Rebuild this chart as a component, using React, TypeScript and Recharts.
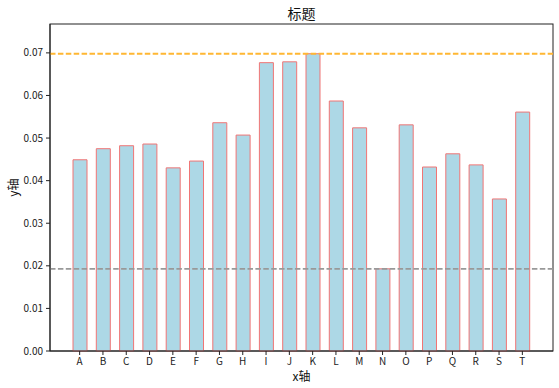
import { BarChart, Bar, XAxis, YAxis, ReferenceLine, Label, usePlotArea } from 'recharts';

const categories = ['A', 'B', 'C', 'D', 'E', 'F', 'G', 'H', 'I', 'J', 'K', 'L', 'M', 'N', 'O', 'P', 'Q', 'R', 'S', 'T'];
const values = [
  0.0449, 0.0475, 0.0482, 0.0486, 0.043, 0.0446, 0.0536, 0.0507, 0.0677, 0.0679,
  0.0698, 0.0587, 0.0524, 0.0193, 0.0531, 0.0432, 0.0463, 0.0437, 0.0357, 0.0561,
];
const yTicks = [0, 0.01, 0.02, 0.03, 0.04, 0.05, 0.06, 0.07];

const maxValue = Math.max(...values);
const minValue = Math.min(...values);
const data = categories.map((name, i) => ({ name, value: values[i] }));

const font = '"Noto Sans CJK SC", sans-serif';
const tickStyle = { fontSize: 10, fill: '#222', fontFamily: font };

// top/right spines
function Frame() {
  const area = usePlotArea();
  if (!area) return null;
  return <rect x={area.x} y={area.y} width={area.width} height={area.height} fill="none" stroke="#222" strokeWidth={1} />;
}

export default function App() {
  return (
    <div style={{ position: 'absolute', left: 0, top: 0, width: 559, height: 388, background: '#fff', fontFamily: font }}>
      <div style={{ position: 'absolute', left: 50, width: 503, top: 3, textAlign: 'center', fontSize: 14, lineHeight: '20px', color: '#111' }}>
        标题
      </div>
      <BarChart width={559} height={388} data={data} margin={{ top: 24, right: 6, left: 0, bottom: 0 }}>
        <XAxis
          dataKey="name"
          interval={0}
          height={37}
          padding={{ left: 18, right: 19 }}
          tick={tickStyle}
          tickSize={4}
          tickMargin={3}
          stroke="#222"
        >
          <Label value="x轴" position="insideBottom" offset={7} style={{ fontSize: 12, fill: '#111', fontFamily: font }} />
        </XAxis>
        <YAxis
          width={50}
          domain={[0, maxValue * 1.1]}
          ticks={yTicks}
          tickFormatter={(v: number) => v.toFixed(2)}
          tick={tickStyle}
          tickSize={4}
          tickMargin={3}
          stroke="#222"
        >
          <Label
            content={({ viewBox }: any) => (
              <text
                x={12}
                y={viewBox.y + viewBox.height / 2}
                transform={`rotate(-90, 12, ${viewBox.y + viewBox.height / 2})`}
                textAnchor="middle"
                dominantBaseline="central"
                fontSize={12}
                fill="#111"
                fontFamily={font}
              >
                y轴
              </text>
            )}
          />
        </YAxis>
        <Bar dataKey="value" fill="#add8e6" stroke="#f07575" strokeWidth={1} barSize={14} isAnimationActive={false} />
        <ReferenceLine y={maxValue} stroke="#ffb733" strokeWidth={1.8} strokeDasharray="5.5 2.4" />
        <ReferenceLine y={minValue} stroke="#999999" strokeWidth={1.8} strokeDasharray="5.5 2.4" />
        <Frame />
      </BarChart>
    </div>
  );
}
